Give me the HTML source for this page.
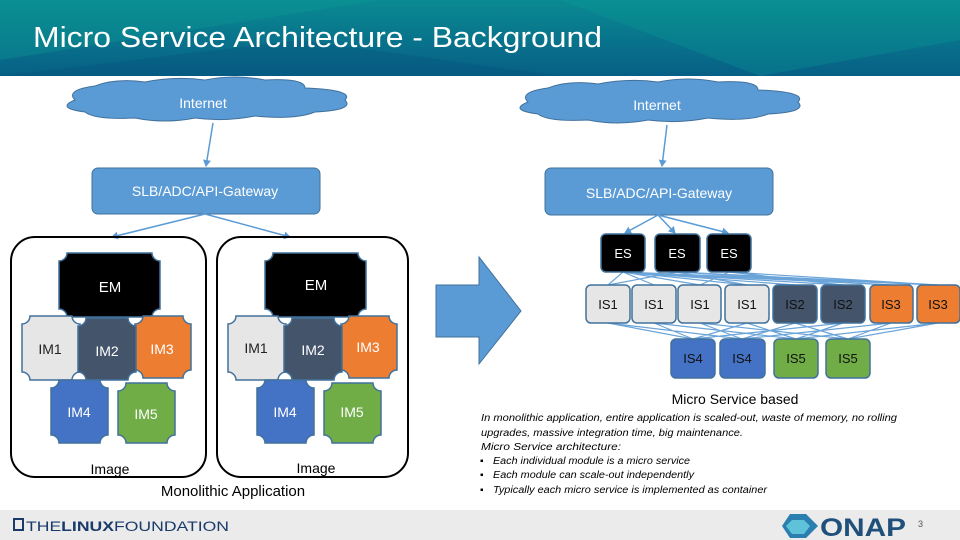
<!DOCTYPE html>
<html><head><meta charset="utf-8"><style>
html,body{margin:0;padding:0;width:960px;height:540px;overflow:hidden;background:#fff}
svg{display:block}
text{font-family:"Liberation Sans",sans-serif}
</style></head><body>
<svg width="960" height="540" viewBox="0 0 960 540" xmlns="http://www.w3.org/2000/svg">
<defs>
<linearGradient id="hd" x1="0" y1="0" x2="0" y2="1"><stop offset="0" stop-color="#0a8a92"/><stop offset="1" stop-color="#075f86"/></linearGradient>
<marker id="ar" markerWidth="8" markerHeight="8" refX="6" refY="4" orient="auto" markerUnits="userSpaceOnUse"><path d="M0,0 L7,4 L0,8 z" fill="#5b9bd5"/></marker>
</defs>
<!-- header -->
<rect x="0" y="0" width="960" height="76" fill="url(#hd)"/>
<polygon points="0,0 380,0 0,60" fill="#0b9a94" opacity="0.35"/>
<polygon points="560,0 960,0 960,40 760,76" fill="#0b9a94" opacity="0.3"/>
<polygon points="0,76 300,40 560,76" fill="#064f7a" opacity="0.3"/>
<text x="33" y="47" font-size="29" fill="#fff" textLength="569" lengthAdjust="spacingAndGlyphs">Micro Service Architecture - Background</text>

<!-- clouds -->
<g fill="#5b9bd5" stroke="#41719c" stroke-width="1">
<path d="M75,100 q-10,-10 20,-14 q20,-8 50,-4 q30,-6 60,-2 q30,-6 60,0 q40,-2 40,8 q50,2 40,12 q10,10 -30,12 q-20,8 -60,4 q-30,6 -60,2 q-30,6 -60,0 q-40,2 -50,-6 q-30,-4 -10,-12z"/>
<path d="M528,102 q-10,-10 20,-14 q20,-8 50,-4 q30,-6 60,-2 q30,-6 60,0 q40,-2 40,8 q50,2 40,12 q10,10 -30,12 q-20,8 -60,4 q-30,6 -60,2 q-30,6 -60,0 q-40,2 -50,-6 q-30,-4 -10,-12z"/>
</g>
<text x="203" y="108" font-size="14" fill="#fff" text-anchor="middle">Internet</text>
<text x="657" y="110" font-size="14" fill="#fff" text-anchor="middle">Internet</text>

<!-- gateways -->
<rect x="92" y="168" width="228" height="46" rx="6" fill="#5b9bd5" stroke="#41719c"/>
<rect x="545" y="168" width="228" height="47" rx="6" fill="#5b9bd5" stroke="#41719c"/>
<text x="205" y="196" font-size="14" fill="#fff" text-anchor="middle">SLB/ADC/API-Gateway</text>
<text x="659" y="198" font-size="14" fill="#fff" text-anchor="middle">SLB/ADC/API-Gateway</text>

<g stroke="#5b9bd5" stroke-width="1.5" marker-end="url(#ar)" fill="none">
<line x1="213" y1="123" x2="206" y2="166"/>
<line x1="667" y1="125" x2="662" y2="166"/>
<line x1="205" y1="214" x2="112" y2="237"/>
<line x1="205" y1="214" x2="290" y2="237"/>
<line x1="658" y1="215" x2="625" y2="233"/>
<line x1="658" y1="215" x2="675" y2="233"/>
<line x1="658" y1="215" x2="728" y2="233"/>
</g>

<!-- monolithic boxes -->
<rect x="11" y="237" width="195" height="240" rx="24" fill="none" stroke="#000" stroke-width="2"/>
<rect x="217" y="237" width="191" height="240" rx="24" fill="none" stroke="#000" stroke-width="2"/>

<g stroke="#41719c" stroke-width="1.5">
<g>
<path d="M67,253 h85 a8 8 0 0 0 8 8 v48 a8 8 0 0 0 -8 8 h-85 a8 8 0 0 0 -8 -8 v-48 a8 8 0 0 0 8 -8z" fill="#000"/>
<path d="M30,316 h42 a8 8 0 0 0 8 8 v48 a8 8 0 0 0 -8 8 h-42 a8 8 0 0 0 -8 -8 v-48 a8 8 0 0 0 8 -8z" fill="#e7e6e6"/>
<path d="M143,316 h40 a8 8 0 0 0 8 8 v46 a8 8 0 0 0 -8 8 h-40 a8 8 0 0 0 -8 -8 v-46 a8 8 0 0 0 8 -8z" fill="#ed7d31"/>
<path d="M86,318 h42 a8 8 0 0 0 8 8 v46 a8 8 0 0 0 -8 8 h-42 a8 8 0 0 0 -8 -8 v-46 a8 8 0 0 0 8 -8z" fill="#44546a"/>
<path d="M59,380 h41 a8 8 0 0 0 8 8 v47 a8 8 0 0 0 -8 8 h-41 a8 8 0 0 0 -8 -8 v-47 a8 8 0 0 0 8 -8z" fill="#4472c4"/>
<path d="M126,383 h41 a8 8 0 0 0 8 8 v44 a8 8 0 0 0 -8 8 h-41 a8 8 0 0 0 -8 -8 v-44 a8 8 0 0 0 8 -8z" fill="#70ad47"/>
</g>
<g transform="translate(206,0)">
<path d="M67,253 h85 a8 8 0 0 0 8 8 v48 a8 8 0 0 0 -8 8 h-85 a8 8 0 0 0 -8 -8 v-48 a8 8 0 0 0 8 -8z" fill="#000"/>
<path d="M30,316 h42 a8 8 0 0 0 8 8 v48 a8 8 0 0 0 -8 8 h-42 a8 8 0 0 0 -8 -8 v-48 a8 8 0 0 0 8 -8z" fill="#e7e6e6"/>
<path d="M143,316 h40 a8 8 0 0 0 8 8 v46 a8 8 0 0 0 -8 8 h-40 a8 8 0 0 0 -8 -8 v-46 a8 8 0 0 0 8 -8z" fill="#ed7d31"/>
<path d="M86,318 h42 a8 8 0 0 0 8 8 v46 a8 8 0 0 0 -8 8 h-42 a8 8 0 0 0 -8 -8 v-46 a8 8 0 0 0 8 -8z" fill="#44546a"/>
<path d="M59,380 h41 a8 8 0 0 0 8 8 v47 a8 8 0 0 0 -8 8 h-41 a8 8 0 0 0 -8 -8 v-47 a8 8 0 0 0 8 -8z" fill="#4472c4"/>
<path d="M126,383 h41 a8 8 0 0 0 8 8 v44 a8 8 0 0 0 -8 8 h-41 a8 8 0 0 0 -8 -8 v-44 a8 8 0 0 0 8 -8z" fill="#70ad47"/>
</g>
</g>
<g font-size="14" text-anchor="middle" fill="#fff">
<text x="110" y="292" font-size="15">EM</text>
<text x="50" y="354" fill="#222">IM1</text>
<text x="107" y="356">IM2</text>
<text x="162" y="354">IM3</text>
<text x="79" y="417">IM4</text>
<text x="146" y="419">IM5</text>
<text x="316" y="290" font-size="15">EM</text>
<text x="256" y="353" fill="#222">IM1</text>
<text x="313" y="355">IM2</text>
<text x="368" y="352">IM3</text>
<text x="285" y="417">IM4</text>
<text x="352" y="417">IM5</text>
<text x="110" y="474" fill="#000" font-size="14">Image</text>
<text x="316" y="473" fill="#000" font-size="14">Image</text>
<text x="233" y="496" fill="#000" font-size="15">Monolithic Application</text>
</g>

<!-- big arrow -->
<polygon points="436,285 479,285 479,257 521,311 479,364 479,337 436,337" fill="#5b9bd5" stroke="#41719c"/>

<!-- connectors micro -->
<g stroke="#5b9bd5" stroke-width="1.2" fill="none" opacity="0.9">
<path d="M623,272 L608,285 M623,272 L654,285 M623,272 L700,285 M623,272 L747,285 M623,272 L795,285 M623,272 L843,285 M623,272 L891,285 M623,272 L938,285"/>
<path d="M677,272 L608,285 M677,272 L747,285 M677,272 L891,285 M677,272 L938,285 M729,272 L700,285 M729,272 L843,285 M729,272 L938,285"/>
<path d="M608,323 L693,339 M608,323 L742,339 M654,323 L693,339 M654,323 L796,339 M700,323 L742,339 M700,323 L848,339 M747,323 L693,339 M747,323 L796,339 M795,323 L742,339 M795,323 L848,339 M843,323 L693,339 M843,323 L796,339 M891,323 L742,339 M891,323 L848,339 M938,323 L796,339 M938,323 L848,339"/>
</g>
<g stroke="#41719c" stroke-width="1.5">
<rect x="601" y="234" width="44" height="38" rx="5" fill="#000"/>
<rect x="655" y="234" width="45" height="38" rx="5" fill="#000"/>
<rect x="707" y="234" width="44" height="38" rx="5" fill="#000"/>
<rect x="586" y="285" width="44" height="38" rx="5" fill="#e7e6e6"/>
<rect x="632" y="285" width="44" height="38" rx="5" fill="#e7e6e6"/>
<rect x="678" y="285" width="43" height="38" rx="5" fill="#e7e6e6"/>
<rect x="725" y="285" width="44" height="38" rx="5" fill="#e7e6e6"/>
<rect x="773" y="285" width="44" height="38" rx="5" fill="#44546a"/>
<rect x="821" y="285" width="44" height="38" rx="5" fill="#44546a"/>
<rect x="870" y="285" width="43" height="38" rx="5" fill="#ed7d31"/>
<rect x="917" y="285" width="43" height="38" rx="5" fill="#ed7d31"/>
<rect x="671" y="339" width="44" height="39" rx="5" fill="#4472c4"/>
<rect x="720" y="339" width="45" height="39" rx="5" fill="#4472c4"/>
<rect x="774" y="339" width="44" height="39" rx="5" fill="#70ad47"/>
<rect x="826" y="339" width="44" height="39" rx="5" fill="#70ad47"/>
</g>
<g font-size="13" text-anchor="middle" fill="#fff">
<text x="623" y="258">ES</text><text x="677" y="258">ES</text><text x="729" y="258">ES</text>
<g fill="#111"><text x="608" y="309">IS1</text><text x="654" y="309">IS1</text><text x="700" y="309">IS1</text><text x="747" y="309">IS1</text></g>
<g fill="#111"><text x="795" y="309">IS2</text><text x="843" y="309">IS2</text><text x="891" y="309">IS3</text><text x="938" y="309">IS3</text>
<text x="693" y="363">IS4</text><text x="742" y="363">IS4</text><text x="796" y="363">IS5</text><text x="848" y="363">IS5</text></g>
</g>

<text x="735" y="404" font-size="14" text-anchor="middle" fill="#000">Micro Service based</text>
<g font-size="10" font-style="italic" fill="#000">
<text x="481" y="421" textLength="416" lengthAdjust="spacingAndGlyphs">In monolithic application, entire application is scaled-out, waste of memory, no rolling</text>
<text x="481" y="436" textLength="262" lengthAdjust="spacingAndGlyphs">upgrades,  massive integration time,  big maintenance.</text>
<text x="481" y="450" textLength="140" lengthAdjust="spacingAndGlyphs">Micro Service architecture:</text>
<text x="480" y="464" font-style="normal">▪</text><text x="493" y="464" textLength="197" lengthAdjust="spacingAndGlyphs">Each individual module is a micro service</text>
<text x="480" y="478" font-style="normal">▪</text><text x="493" y="478" textLength="201" lengthAdjust="spacingAndGlyphs">Each module can scale-out independently</text>
<text x="480" y="493" font-style="normal">▪</text><text x="493" y="493" textLength="274" lengthAdjust="spacingAndGlyphs">Typically each micro service is implemented as container</text>
</g>

<!-- footer -->
<rect x="0" y="510" width="960" height="30" fill="#ebebeb"/>
<rect x="14" y="519" width="9" height="11" fill="none" stroke="#1a3a6a" stroke-width="2"/>
<text x="26" y="531" font-size="14" fill="#1a3a6a" textLength="203" lengthAdjust="spacingAndGlyphs">THE<tspan font-weight="bold">LINUX</tspan>FOUNDATION</text>
<polygon points="790,514 806,514 818,526 806,538 790,538 782,526" fill="#2a7fb0"/>
<polygon points="792,520 804,520 810,526 804,534 792,534 786,526" fill="#5ec3d8"/>
<text x="820" y="536" font-size="25" font-weight="bold" fill="#1f4f7a" textLength="86" lengthAdjust="spacingAndGlyphs">ONAP</text>
<text x="918" y="527" font-size="9" fill="#555">3</text>
</svg>
</body></html>
